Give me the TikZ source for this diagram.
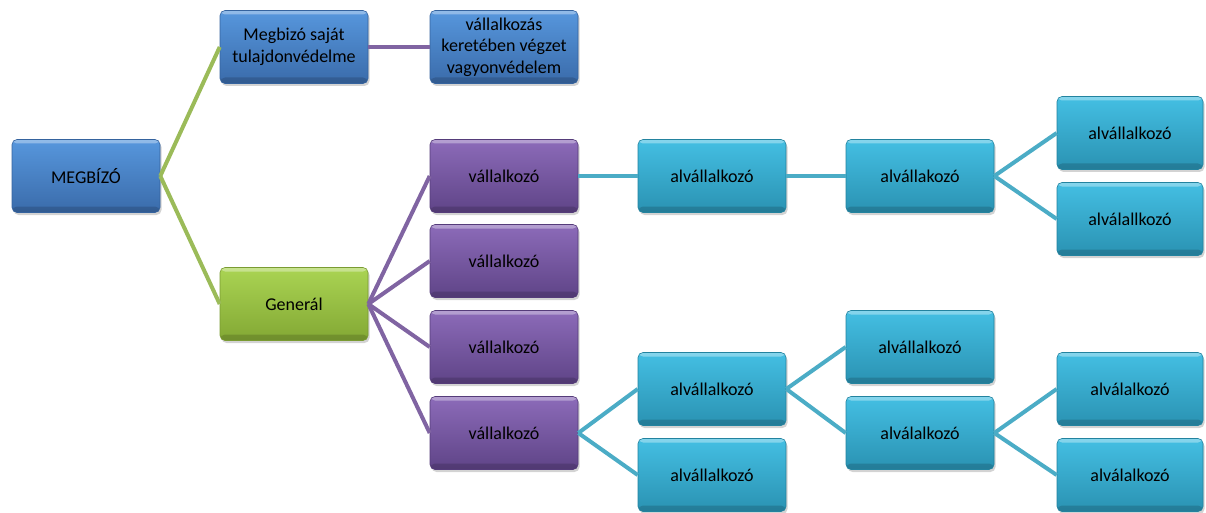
\documentclass[tikz,border=0pt]{standalone}
\usepackage{fontspec}
\setmainfont{Carlito}
\usetikzlibrary{shadows}
\definecolor{lnGreen}{HTML}{9BBB59}
\definecolor{lnPurple}{HTML}{8064A2}
\definecolor{lnCyan}{HTML}{4BACC6}
\definecolor{bluetop}{HTML}{5797DD}
\definecolor{bluemid}{HTML}{4A86CF}
\definecolor{bluebot}{HTML}{3A6BAA}
\definecolor{blueedge}{HTML}{35639E}
\definecolor{greentop}{HTML}{AAD453}
\definecolor{greenmid}{HTML}{9CC644}
\definecolor{greenbot}{HTML}{83A834}
\definecolor{greenedge}{HTML}{7A9B32}
\definecolor{purptop}{HTML}{8C6BB9}
\definecolor{purpmid}{HTML}{7D5DA9}
\definecolor{purpbot}{HTML}{5F4487}
\definecolor{purpedge}{HTML}{553C7A}
\definecolor{cyantop}{HTML}{44BFE3}
\definecolor{cyanmid}{HTML}{38B0D4}
\definecolor{cyanbot}{HTML}{2A92B2}
\definecolor{cyanedge}{HTML}{23839F}
\tikzset{
  box/.style={rectangle, rounded corners=5pt, minimum width=148pt, minimum height=73pt,
    inner sep=2pt, align=center, font=\fontsize{18}{21.5}\selectfont, text=black, line width=0.6pt,
    drop shadow={opacity=0.35, shadow xshift=1.5pt, shadow yshift=-2.5pt},
    path picture={
      \fill[white,opacity=0.35] (path picture bounding box.north west) rectangle ([yshift=-4pt]path picture bounding box.north east);
      \fill[black,opacity=0.15] (path picture bounding box.south west) rectangle ([yshift=6pt]path picture bounding box.south east);
    }},
  bluebox/.style={box, top color=bluetop, middle color=bluemid, bottom color=bluebot, draw=blueedge},
  greenbox/.style={box, top color=greentop, middle color=greenmid, bottom color=greenbot, draw=greenedge},
  purpbox/.style={box, top color=purptop, middle color=purpmid, bottom color=purpbot, draw=purpedge},
  cyanbox/.style={box, top color=cyantop, middle color=cyanmid, bottom color=cyanbot, draw=cyanedge},
  narrow/.style={minimum width=146pt},
  gline/.style={draw=lnGreen, line width=4pt},
  pline/.style={draw=lnPurple, line width=4pt},
  cline/.style={draw=lnCyan, line width=4pt},
}
\begin{document}
\begin{tikzpicture}[x=1pt,y=-1pt]
\useasboundingbox (0,0) rectangle (1206,513);
% level 0
\node[bluebox] (m) at (86,176) {MEGBÍZÓ};
% level 1
\node[bluebox] (s) at (294,47) {Megbizó saját\\tulajdonvédelme};
\node[greenbox] (g) at (294,304) {Generál};
% level 2
\node[bluebox] (k) at (504,47) {vállalkozás\\keretében végzet\\vagyonvédelem};
\node[purpbox] (v1) at (504,176) {vállalkozó};
\node[purpbox] (v2) at (504,261) {vállalkozó};
\node[purpbox] (v3) at (504,347) {vállalkozó};
\node[purpbox] (v4) at (504,433) {vállalkozó};
% level 3
\node[cyanbox] (a1) at (712,176) {alvállalkozó};
\node[cyanbox] (a2) at (712,389) {alvállalkozó};
\node[cyanbox] (a3) at (712,475) {alvállalkozó};
% level 4
\node[cyanbox] (b1) at (920,176) {alvállakozó};
\node[cyanbox] (b2) at (920,347) {alvállalkozó};
\node[cyanbox] (b3) at (920,433) {alválalkozó};
% level 5
\node[cyanbox,narrow] (c1) at (1130,133) {alvállalkozó};
\node[cyanbox,narrow] (c2) at (1130,219) {alválallkozó};
\node[cyanbox,narrow] (c3) at (1130,389) {alválalkozó};
\node[cyanbox,narrow] (c4) at (1130,475) {alválalkozó};
% connectors
\draw[gline] (m.east) -- (s.west);
\draw[gline] (m.east) -- (g.west);
\draw[pline] (s.east) -- (k.west);
\draw[pline] (g.east) -- (v1.west);
\draw[pline] (g.east) -- (v2.west);
\draw[pline] (g.east) -- (v3.west);
\draw[pline] (g.east) -- (v4.west);
\draw[cline] (v1.east) -- (a1.west);
\draw[cline] (a1.east) -- (b1.west);
\draw[cline] (b1.east) -- (c1.west);
\draw[cline] (b1.east) -- (c2.west);
\draw[cline] (v4.east) -- (a2.west);
\draw[cline] (v4.east) -- (a3.west);
\draw[cline] (a2.east) -- (b2.west);
\draw[cline] (a2.east) -- (b3.west);
\draw[cline] (b3.east) -- (c3.west);
\draw[cline] (b3.east) -- (c4.west);
\end{tikzpicture}
\end{document}
